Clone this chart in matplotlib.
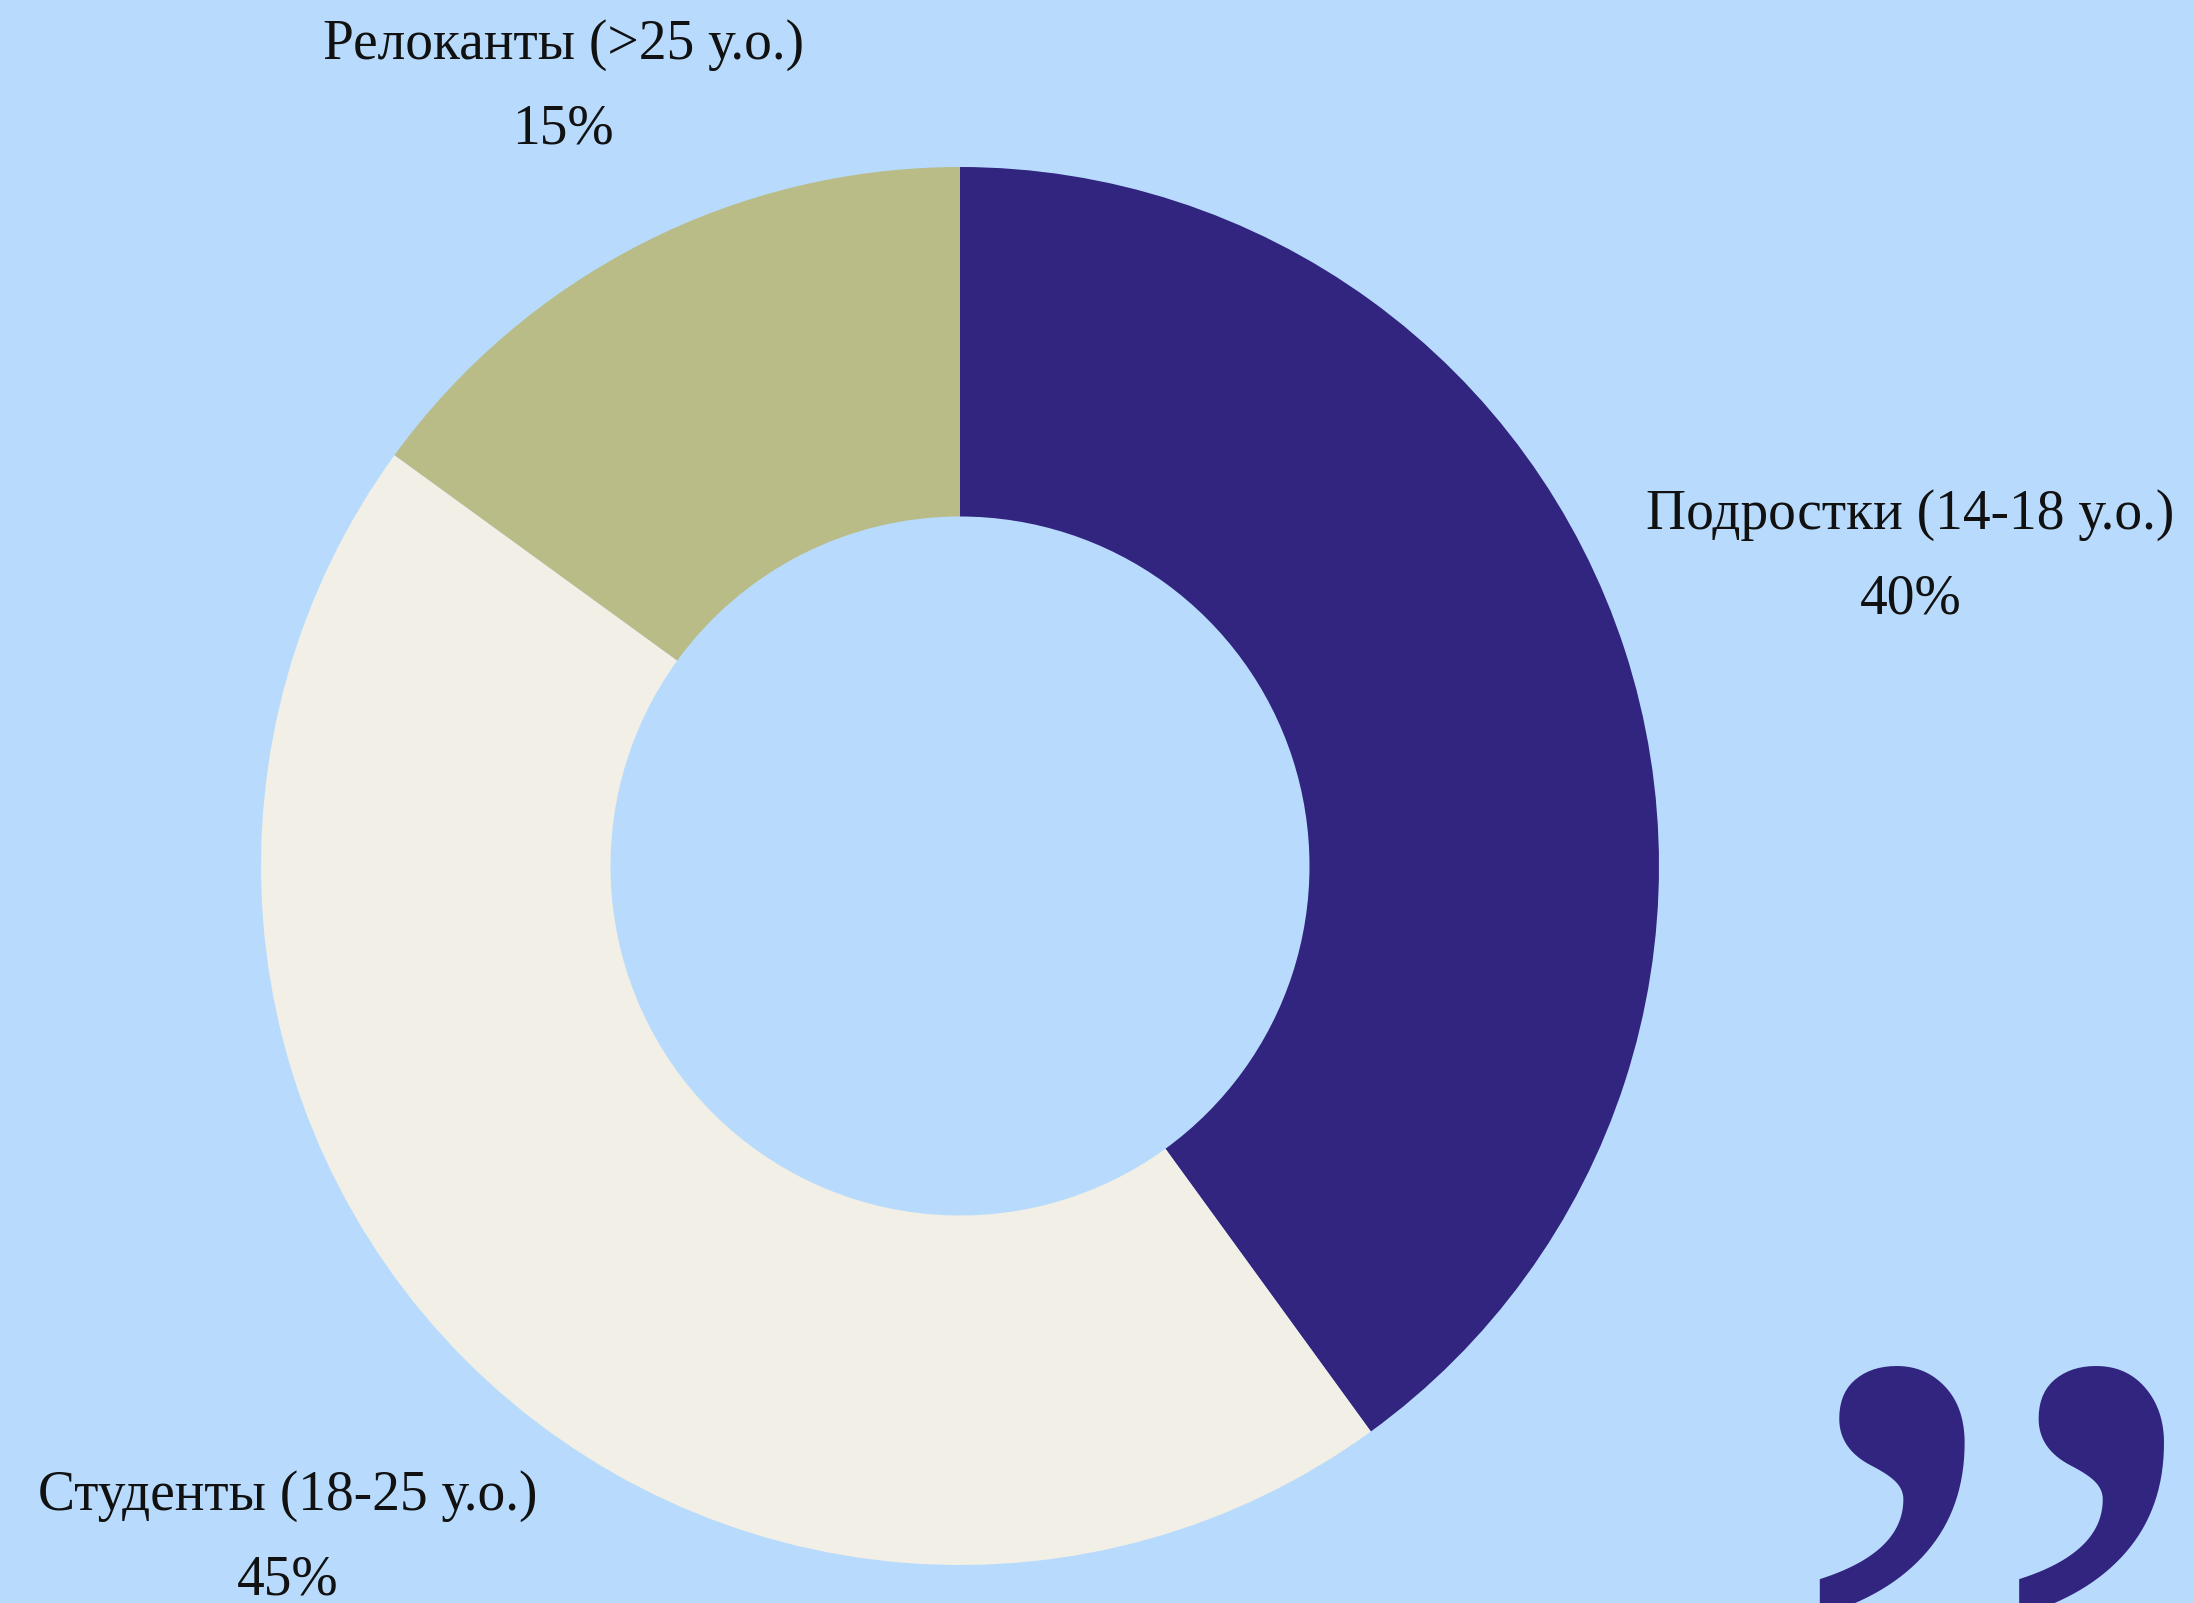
import numpy as np
import matplotlib.pyplot as plt

labels = ['Подростки (14-18 у.о.)', 'Студенты (18-25 у.о.)', 'Релоканты (>25 у.о.)']
shares = [40, 45, 15]
colors = ['#312580', '#F1EFE6', '#B9BC86']
label_dist = [1.43, 1.36, 1.25]

bg = '#B8DBFD'
W, H = 2194, 1603
cx, cy, R = 960, 866, 699

fig = plt.figure(figsize=(W / 100, H / 100), dpi=100, facecolor=bg)
ax = fig.add_axes([0, 0, 1, 1])
ax.set_facecolor(bg)

ax.pie(shares, colors=colors, startangle=90, counterclock=False, radius=1,
       wedgeprops=dict(width=0.5, linewidth=0))

ax.set_xlim(-cx / R, (W - cx) / R)
ax.set_ylim(-(H - cy) / R, cy / R)
ax.set_aspect('equal')
ax.axis('off')

# подписи по середине каждого сектора
start = 90.0
for lab, val, d in zip(labels, shares, label_dist):
    mid = np.radians(start - val * 3.6 / 2)
    start -= val * 3.6
    x, y = d * np.cos(mid), d * np.sin(mid)
    ax.text(x, y, f'{lab}\n{val}%', ha='center', va='center', fontsize=40,
            family='Liberation Serif', color='#111111', linespacing=1.8)

# декоративная кавычка в правом нижнем углу (обрезана краем)
ax.text(1.479, -1.638, '\u201d', ha='center', va='baseline', fontsize=700,
        family='Liberation Serif', color='#312580')

fig.savefig('out.png', dpi=100, facecolor=bg)
